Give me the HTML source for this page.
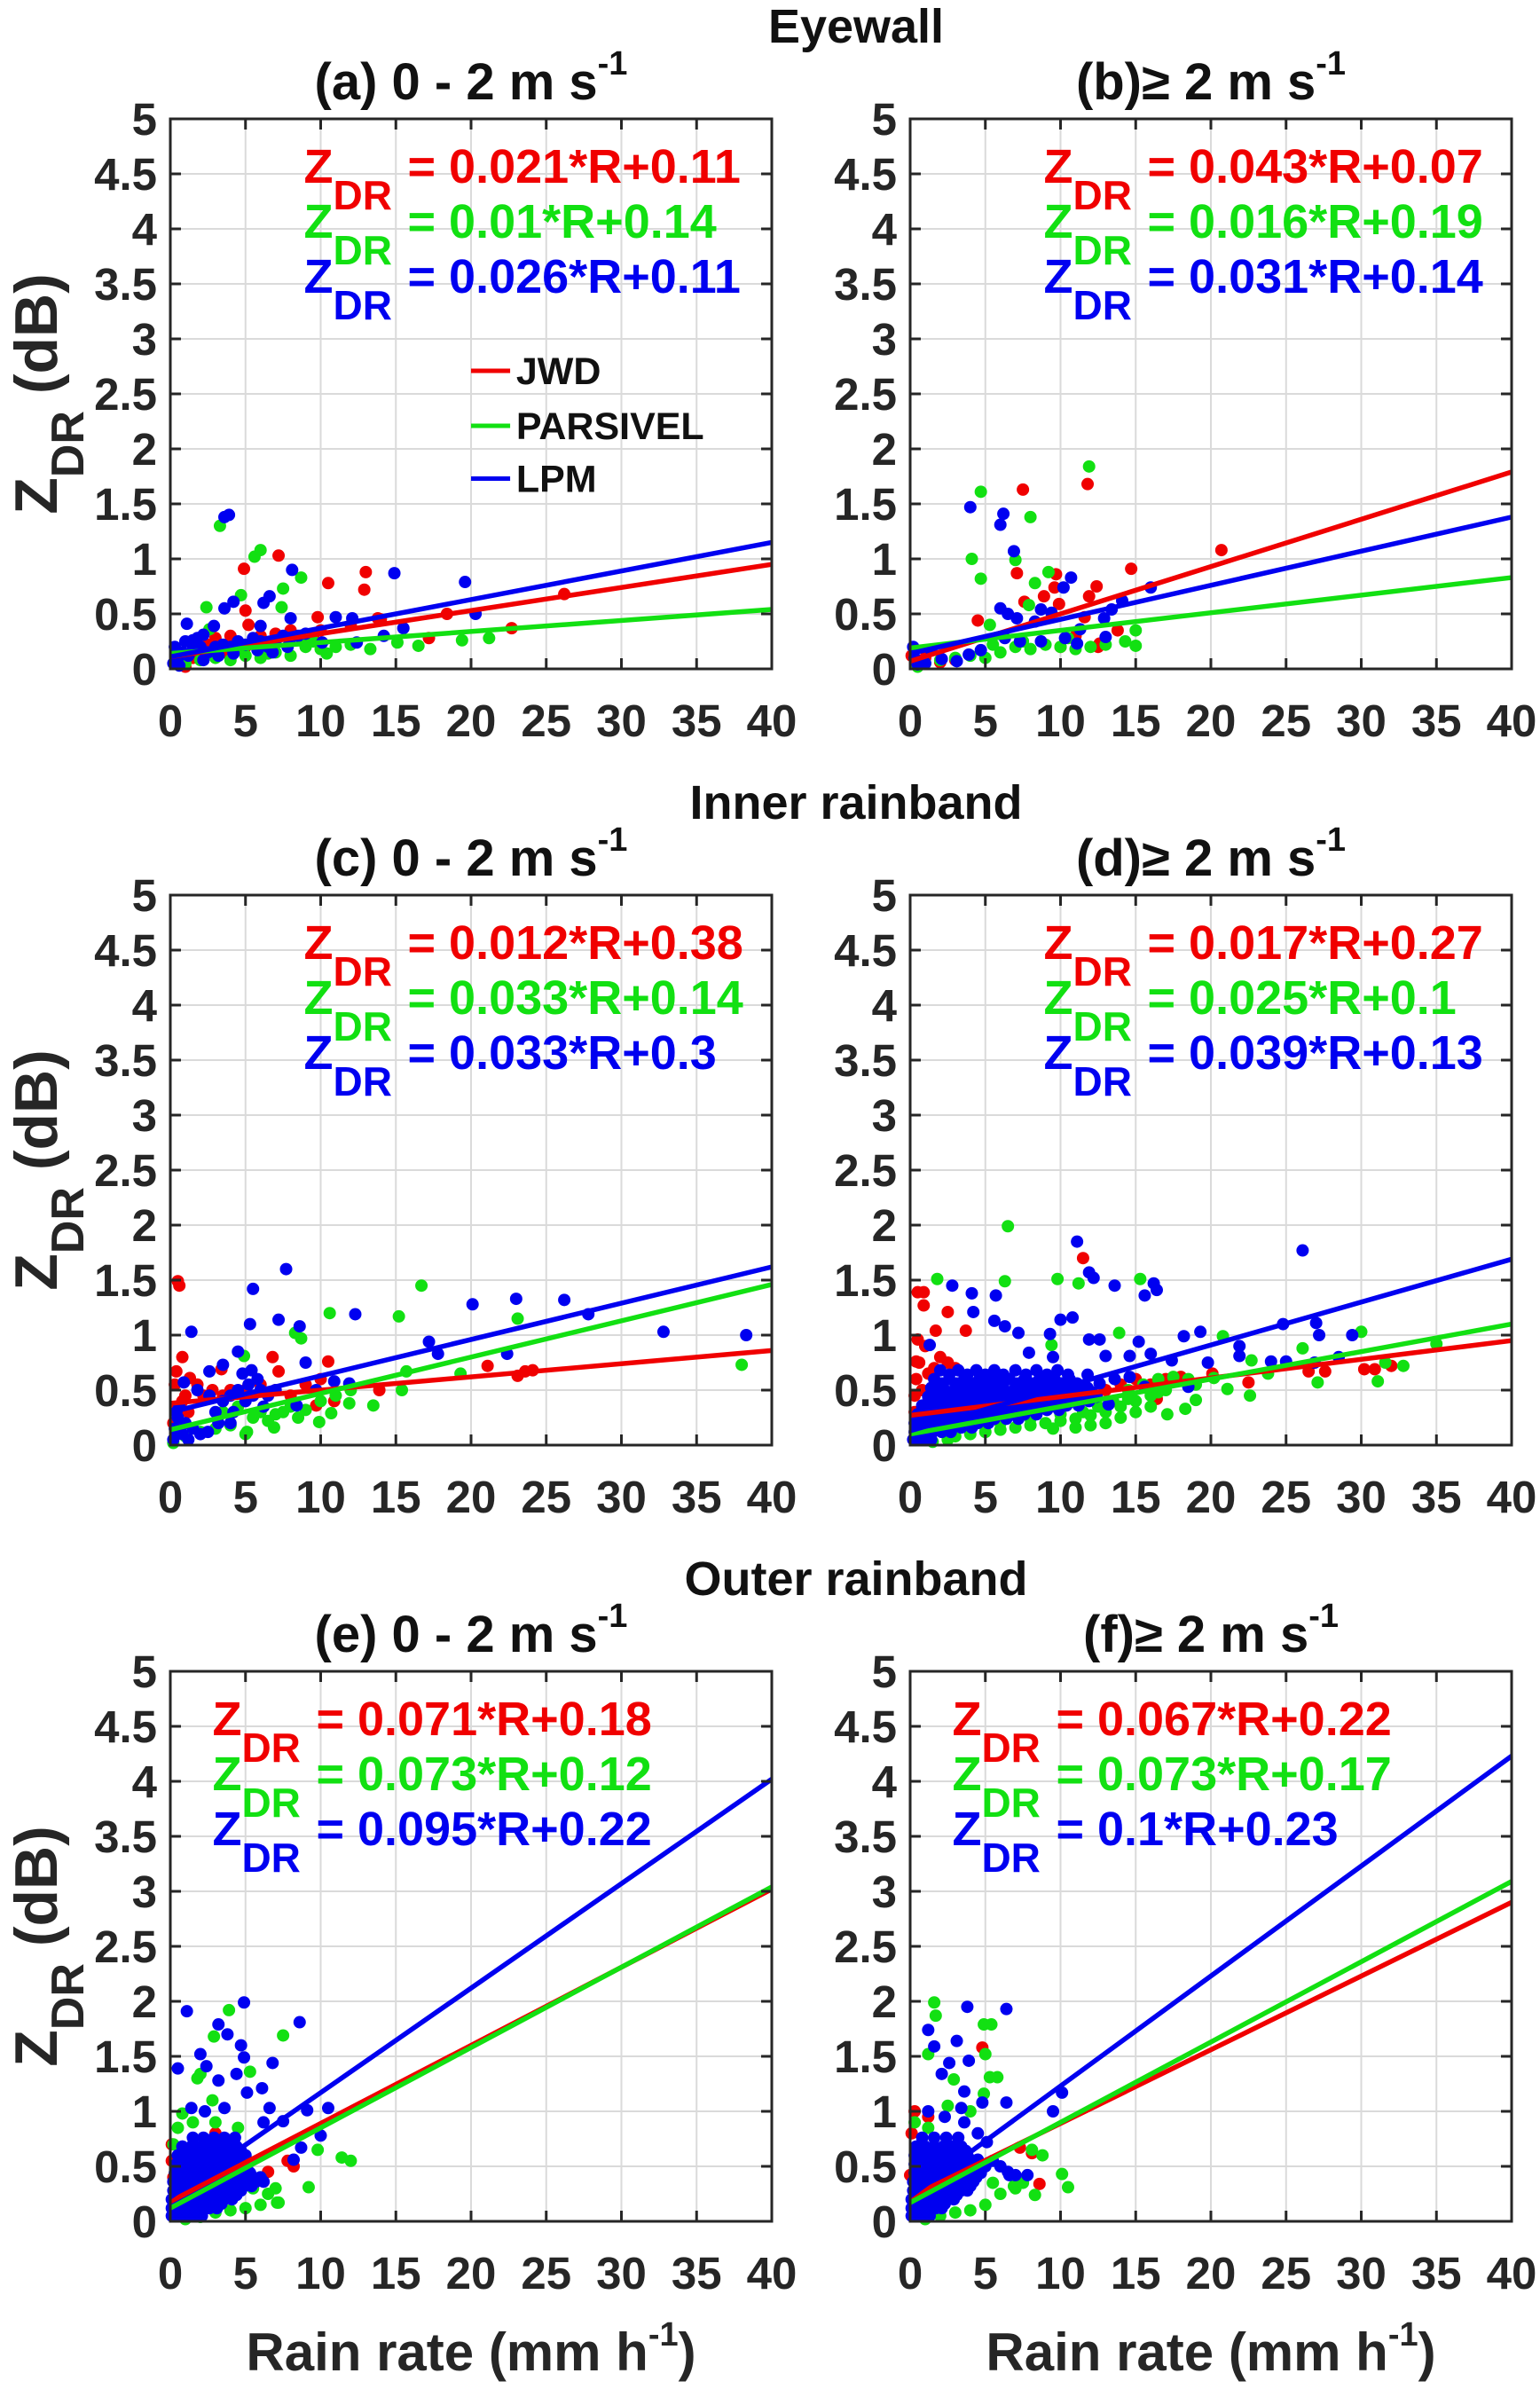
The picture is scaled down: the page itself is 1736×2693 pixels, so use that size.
<!DOCTYPE html>
<html><head><meta charset="utf-8"><style>
html,body{margin:0;padding:0;background:#fff;}
svg{display:block;font-family:"Liberation Sans",Arial,sans-serif;font-weight:bold;}
</style></head><body>
<svg id="fig" width="1736" height="2693" viewBox="0 0 1736 2693" xmlns="http://www.w3.org/2000/svg">
<rect width="1736" height="2693" fill="#fff"/>
</svg>
<script>
// ===== data =====
const xTicks = [0,5,10,15,20,25,30,35,40];
const yTicks = [0,0.5,1,1.5,2,2.5,3,3.5,4,4.5,5];
const yTickLabels = ["0","0.5","1","1.5","2","2.5","3","3.5","4","4.5","5"];
const sectionNames = ["Eyewall","Inner rainband","Outer rainband"];
const panelLetters = ["(a)","(b)","(c)","(d)","(e)","(f)"];
const seriesNames = ["JWD","PARSIVEL","LPM"];
// fits: [slope, intercept] for JWD, PARSIVEL, LPM
const slopesA = [0.021,0.01,0.026];   const interA = [0.11,0.14,0.11];
const slopesB = [0.043,0.016,0.031];  const interB = [0.07,0.19,0.14];
const slopesC = [0.012,0.033,0.033];  const interC = [0.38,0.14,0.3];
const slopesD = [0.017,0.025,0.039];  const interD = [0.27,0.1,0.13];
const slopesE = [0.071,0.073,0.095];  const interE = [0.18,0.12,0.22];
const slopesF = [0.067,0.073,0.1];    const interF = [0.22,0.17,0.23];
const eqTextA = ["0.021*R+0.11","0.01*R+0.14","0.026*R+0.11"];
const eqTextB = ["0.043*R+0.07","0.016*R+0.19","0.031*R+0.14"];
const eqTextC = ["0.012*R+0.38","0.033*R+0.14","0.033*R+0.3"];
const eqTextD = ["0.017*R+0.27","0.025*R+0.1","0.039*R+0.13"];
const eqTextE = ["0.071*R+0.18","0.073*R+0.12","0.095*R+0.22"];
const eqTextF = ["0.067*R+0.22","0.073*R+0.17","0.1*R+0.23"];

const aRed = [[7.2,1.03],[4.9,0.91],[13,0.88],[10.5,0.78],[12.9,0.72],[5,0.53],[5.2,0.4],[9.8,0.47],[26.2,0.68],[22.7,0.37],[18.4,0.5],[17.2,0.28],[13.8,0.46],[0.5,0.05],[1.5,0.1],[2.5,0.22],[3.5,0.15],[5,0.2],[6,0.3],[7,0.32],[8,0.35],[9.5,0.3],[1,0.02],[4,0.3],[3,0.28],[12,0.4],[14,0.45],[10,0.35]];
const aGreen = [[3.3,1.3],[5.6,1.02],[6,1.08],[7.5,0.73],[8.7,0.83],[2.4,0.56],[2.6,0.36],[4.7,0.67],[7.4,0.56],[16.5,0.21],[19.4,0.26],[21.2,0.28],[13.3,0.18],[10.4,0.14],[15.1,0.24],[9,0.22],[1,0.05],[2,0.08],[3,0.1],[4,0.08],[5,0.12],[6,0.1],[7,0.15],[8,0.12],[9,0.2],[10,0.18],[11,0.2],[12,0.22],[9.5,0.25],[2.5,0.15],[4.5,0.18],[6.5,0.14]];
const aBlue = [[3.6,1.38],[3.9,1.4],[8.1,0.9],[14.9,0.87],[19.6,0.79],[20.3,0.5],[1.1,0.41],[3.6,0.55],[4.2,0.61],[6.2,0.6],[6.6,0.66],[6,0.39],[8,0.46],[11,0.47],[12.1,0.46],[10.1,0.24],[12.4,0.24],[14.2,0.3],[15.5,0.37],[2.9,0.39],[1.5,0.26],[2.2,0.31],[0.2,0.05],[0.5,0.1],[0.8,0.15],[1.2,0.12],[1.5,0.18],[2,0.2],[2.5,0.15],[3,0.2],[3.5,0.22],[4,0.2],[4.5,0.25],[5,0.22],[5.5,0.28],[6,0.25],[6.5,0.2],[7,0.25],[7.5,0.3],[8,0.28],[8.5,0.3],[9,0.32],[0.3,0.2],[1,0.25],[1.8,0.28],[6.8,0.15],[5.8,0.17],[4.2,0.14],[3.2,0.12],[2.2,0.08],[0.6,0.03],[7.8,0.2]];

const bRed = [[7.5,1.63],[11.8,1.68],[20.7,1.08],[14.7,0.91],[7.1,0.87],[9.7,0.86],[12.4,0.75],[9.6,0.74],[8.9,0.66],[11.9,0.66],[9.9,0.59],[7.6,0.61],[4.5,0.44],[11.6,0.47],[13.8,0.35],[12.6,0.23],[0.1,0.12],[1,0.1],[2,0.06],[3,0.08],[12.5,0.2],[11,0.3],[10,0.2]];
const bGreen = [[11.9,1.84],[4.7,1.61],[8,1.38],[4.1,1.0],[4.7,0.82],[7,0.99],[9.2,0.88],[8.3,0.78],[7.9,0.58],[5.3,0.4],[15,0.35],[14.3,0.25],[15,0.21],[1,0.05],[2,0.08],[3,0.1],[4,0.12],[5,0.1],[6,0.15],[7,0.2],[8,0.18],[9,0.22],[10,0.2],[11,0.18],[12,0.2],[13,0.22],[0.5,0.02],[5.5,0.22],[7.5,0.25],[10.5,0.28]];
const bBlue = [[4,1.47],[6.2,1.41],[6,1.31],[6.9,1.07],[10.7,0.83],[10.2,0.74],[16,0.74],[14.1,0.62],[8.7,0.54],[6,0.55],[6.5,0.5],[7.1,0.46],[12.9,0.46],[13.4,0.54],[9.4,0.51],[8.3,0.43],[13,0.29],[11.3,0.36],[0.2,0.2],[1.4,0.17],[3.9,0.13],[2.1,0.09],[3.1,0.07],[0.5,0.04],[4.7,0.17],[6.3,0.28],[7.3,0.25],[8.7,0.25],[10.3,0.28],[11.1,0.23],[0.3,0.1],[1,0.05]];

const cRed = [[0.5,1.49],[0.6,1.45],[0.8,0.8],[6.8,0.8],[10.5,0.76],[21.1,0.72],[23.1,0.63],[23.6,0.67],[24.1,0.68],[0.4,0.67],[1.3,0.61],[7.2,0.67],[3.4,0.69],[13.9,0.5],[9.7,0.36],[10.9,0.4],[0.2,0.2],[0.5,0.35],[0.8,0.4],[1,0.45],[1.2,0.3],[1.8,0.55],[2.2,0.45],[2.8,0.5],[3.5,0.45],[4,0.5],[5,0.5],[6,0.55],[7,0.5],[8,0.45],[0.3,0.55],[9,0.55],[10,0.6]];
const cGreen = [[16.7,1.45],[10.6,1.2],[15.2,1.17],[23.1,1.15],[8.3,1.02],[8.7,0.97],[4.9,0.81],[38,0.73],[19.3,0.65],[15.7,0.67],[15.4,0.5],[13.5,0.36],[11.9,0.38],[10.7,0.29],[9.9,0.21],[6.9,0.16],[5.1,0.12],[0.2,0.02],[1,0.08],[2,0.12],[3,0.15],[4,0.18],[5,0.1],[5.5,0.25],[6,0.3],[6.5,0.22],[7,0.28],[7.5,0.3],[8,0.35],[8.5,0.25],[3.5,0.3],[4.5,0.35],[9,0.32],[10,0.4],[11,0.45],[12,0.5]];
const cBlue = [[7.7,1.6],[5.5,1.42],[1.4,1.03],[5.3,1.1],[7.2,1.14],[8.6,1.08],[12.3,1.19],[20.1,1.28],[23,1.33],[26.2,1.32],[27.8,1.19],[32.8,1.03],[38.3,1.0],[17.2,0.94],[17.8,0.83],[22.4,0.83],[9,0.75],[4.5,0.85],[3.5,0.73],[2.6,0.67],[0.9,0.57],[10.9,0.58],[11.9,0.56],[9.7,0.5],[8.4,0.36],[0.2,0.05],[0.3,0.15],[0.5,0.25],[0.8,0.1],[1,0.2],[1.2,0.05],[1.5,0.15],[2,0.1],[2.5,0.12],[0.4,0.3],[0.6,0.35],[3,0.3],[3.5,0.4],[4,0.45],[4.2,0.3],[4.5,0.5],[5,0.4],[5.2,0.55],[5.5,0.45],[6,0.5],[6.2,0.35],[6.5,0.45],[7,0.5],[5.8,0.6],[4.8,0.65],[5.4,0.68],[2.6,0.45],[3.2,0.2],[4,0.2],[1.8,0.5]];

const dRed = [[0.5,1.39],[0.9,1.39],[0.9,1.27],[2.5,1.21],[1.7,1.04],[3.7,1.04],[0.5,0.96],[11.5,1.7],[0.4,0.76],[30.2,0.69],[30.9,0.69],[32,0.72],[26.5,0.67],[27.6,0.67],[22.5,0.57],[20.1,0.65],[16.4,0.42],[0.3,0.3],[0.3,0.45],[0.4,0.6],[0.6,0.75],[0.8,0.5],[1.2,0.65],[1.6,0.7],[2,0.8],[1,0.9],[2.5,0.75],[3,0.7],[0.5,0.2],[12,0.45],[13,0.5],[14,0.55],[15,0.6],[16,0.55],[17,0.6],[18,0.62]];
const dGreen = [[6.5,1.99],[1.8,1.51],[6.3,1.49],[9.8,1.51],[11.2,1.47],[15.3,1.51],[13.9,1.02],[9.4,0.91],[20.8,0.99],[30,1.03],[35,0.92],[26.1,0.88],[32.8,0.72],[31.6,0.75],[31.1,0.58],[27.1,0.57],[22.7,0.77],[23.8,0.65],[22.6,0.45],[21.1,0.51],[17.1,0.28],[18.3,0.33],[19,0.41],[20.2,0.61],[3,0.08],[4,0.1],[5,0.12],[6,0.14],[7,0.16],[8,0.18],[9,0.2],[10,0.22],[11,0.24],[12,0.27],[13,0.3],[14,0.35],[15,0.4],[16,0.45],[17,0.5],[14.5,0.5],[16.5,0.6],[2.5,0.05],[1.5,0.03],[12.5,0.35],[11.5,0.3],[13.5,0.4],[15.5,0.55],[17.5,0.62],[18.5,0.6],[19,0.55],[6,0.2],[8,0.24],[10,0.28],[13,0.2],[14,0.25],[15,0.3],[16,0.35],[14.5,0.42],[16.5,0.48],[12,0.18],[11,0.16],[9.5,0.15]];
const dBlue = [[11.1,1.85],[26.1,1.77],[11.9,1.57],[12.2,1.52],[13.6,1.45],[16.2,1.47],[16.4,1.41],[15.6,1.36],[2.8,1.45],[4.1,1.38],[5.7,1.36],[4.2,1.21],[5.6,1.13],[6.3,1.08],[10,1.14],[10.8,1.16],[9.3,1.01],[7.2,1.02],[11.9,0.96],[12.6,0.96],[15.2,0.94],[19.3,1.03],[18.2,0.99],[24.8,1.1],[27,1.11],[27.2,1.0],[29.4,1.0],[21.9,0.9],[21.9,0.81],[24,0.76],[25,0.76],[26.9,0.75],[28.5,0.8],[19.8,0.75],[18.5,0.53],[15.6,0.53],[1.3,0.91],[7.9,0.84],[9.5,0.8],[13,0.81],[14.6,0.81],[16,0.83],[17.4,0.77],[13.2,0.37],
[0.2,0.05],[0.8,0.05],[1.4,0.05],
[0.3,0.12],[0.9,0.12],[1.5,0.12],[2.1,0.12],[2.7,0.12],
[0.3,0.2],[1,0.2],[1.7,0.2],[2.4,0.2],[3.1,0.2],[3.8,0.2],[4.5,0.2],[5.2,0.2],
[0.5,0.28],[1.2,0.28],[2,0.28],[2.8,0.28],[3.6,0.28],[4.4,0.28],[5.2,0.28],[6,0.28],[6.8,0.28],[7.6,0.28],[8.4,0.28],
[0.8,0.36],[1.6,0.36],[2.4,0.36],[3.2,0.36],[4,0.36],[4.8,0.36],[5.6,0.36],[6.4,0.36],[7.2,0.36],[8,0.36],[8.8,0.36],[9.6,0.36],[10.4,0.36],[11.2,0.36],
[1.2,0.44],[2,0.44],[2.8,0.44],[3.6,0.44],[4.4,0.44],[5.2,0.44],[6,0.44],[6.8,0.44],[7.6,0.44],[8.4,0.44],[9.2,0.44],[10,0.44],[10.8,0.44],[11.6,0.44],[12.4,0.44],
[1.4,0.52],[2.2,0.52],[3,0.52],[3.8,0.52],[4.6,0.52],[5.4,0.52],[6.2,0.52],[7,0.52],[7.8,0.52],[8.6,0.52],[9.4,0.52],[10.2,0.52],[11,0.52],[11.8,0.52],
[1.6,0.6],[2.6,0.6],[3.6,0.6],[4.6,0.6],[5.6,0.6],[6.6,0.6],[7.6,0.6],[8.6,0.6],[9.6,0.6],[10.6,0.6],
[2,0.68],[3.2,0.68],[4.4,0.68],[5.6,0.68],[7,0.68],[8.4,0.68],[9.8,0.68],
[0.6,0.16],[1.3,0.16],[2,0.16],[2.7,0.16],[3.4,0.16],[4.1,0.16],
[0.8,0.24],[1.6,0.24],[2.4,0.24],[3.2,0.24],[4,0.24],[4.8,0.24],[5.6,0.24],[6.4,0.24],[7.2,0.24],
[1.1,0.32],[1.9,0.32],[2.7,0.32],[3.5,0.32],[4.3,0.32],[5.1,0.32],[5.9,0.32],[6.7,0.32],[7.5,0.32],[8.3,0.32],[9.1,0.32],[9.9,0.32],
[1.5,0.4],[2.3,0.4],[3.1,0.4],[3.9,0.4],[4.7,0.4],[5.5,0.4],[6.3,0.4],[7.1,0.4],[7.9,0.4],[8.7,0.4],[9.5,0.4],[10.3,0.4],[11.1,0.4],[11.9,0.4],
[1.7,0.48],[2.5,0.48],[3.3,0.48],[4.1,0.48],[4.9,0.48],[5.7,0.48],[6.5,0.48],[7.3,0.48],[8.1,0.48],[8.9,0.48],[9.7,0.48],[10.5,0.48],[11.3,0.48],[12.1,0.48],
[2.1,0.56],[3.1,0.56],[4.1,0.56],[5.1,0.56],[6.1,0.56],[7.1,0.56],[8.1,0.56],[9.1,0.56],[10.1,0.56],[11.1,0.56],[12.6,0.56],[13.6,0.6],[14.6,0.62],
[2.6,0.64],[3.8,0.64],[5,0.64],[6.2,0.64],[7.7,0.64],[9.1,0.64],[10.5,0.64],[11.8,0.64]];

const eRed = [[0.1,0.55],[0.1,0.7],[0.2,0.4],[3,0.8],[7.8,0.55],[8.2,0.5],[6.5,0.45]];
const eGreen = [[3.9,1.92],[7.5,1.69],[2.9,1.68],[5.3,1.36],[2,1.34],[0.8,0.98],[9.8,0.65],[11.4,0.58],[12,0.55],[9.2,0.31],[7.1,0.17],[1,0.02],[2,0.04],[3,0.08],[4,0.1],[5,0.12],[6,0.15],[6.5,0.25],[7,0.3],[6,0.4],[5.5,0.3],[7.2,0.17],[0.2,0.7],[0.5,0.85],[1.5,0.9],[3,0.9],[4.5,0.85],[2.8,1.1],[1.8,1.3]];
const eBlue = [[1.1,1.91],[4.9,1.99],[8.6,1.81],[3.2,1.79],[3.8,1.7],[4.7,1.6],[4.9,1.49],[6.8,1.44],[0.5,1.39],[2,1.52],[2.4,1.41],[4.4,1.34],[3.2,1.28],[5.1,1.17],[6.1,1.21],[1.4,1.03],[2.3,1.0],[3.6,1.03],[6.6,1.03],[9.1,1.01],[10.5,1.03],[7.5,0.91],[6.2,0.9],[10,0.78],[8.7,0.67],[8.2,0.56],
[0.1,0.05],[0.6,0.05],[1.1,0.05],[1.6,0.05],[2.1,0.05],
[0.1,0.12],[0.6,0.12],[1.1,0.12],[1.6,0.12],[2.1,0.12],[2.6,0.12],[3.1,0.12],
[0.1,0.2],[0.6,0.2],[1.1,0.2],[1.6,0.2],[2.1,0.2],[2.6,0.2],[3.1,0.2],[3.6,0.2],[4.1,0.2],
[0.2,0.28],[0.7,0.28],[1.2,0.28],[1.7,0.28],[2.2,0.28],[2.7,0.28],[3.2,0.28],[3.7,0.28],[4.2,0.28],[4.7,0.28],
[0.2,0.36],[0.7,0.36],[1.2,0.36],[1.7,0.36],[2.2,0.36],[2.7,0.36],[3.2,0.36],[3.7,0.36],[4.2,0.36],[4.7,0.36],[5.2,0.36],[5.7,0.36],[6.2,0.36],
[0.3,0.44],[0.8,0.44],[1.3,0.44],[1.8,0.44],[2.3,0.44],[2.8,0.44],[3.3,0.44],[3.8,0.44],[4.3,0.44],[4.8,0.44],[5.3,0.44],
[0.4,0.52],[0.9,0.52],[1.4,0.52],[1.9,0.52],[2.4,0.52],[2.9,0.52],[3.4,0.52],[3.9,0.52],[4.4,0.52],[4.9,0.52],
[0.5,0.6],[1,0.6],[1.5,0.6],[2,0.6],[2.5,0.6],[3,0.6],[3.5,0.6],[4,0.6],[4.5,0.6],[5,0.6],
[0.8,0.68],[1.4,0.68],[2,0.68],[2.6,0.68],[3.2,0.68],[3.8,0.68],[4.4,0.68],
[1.5,0.76],[2.2,0.76],[2.9,0.76],[3.6,0.76],[4.3,0.76],
[0.4,0.16],[0.9,0.16],[1.4,0.16],[1.9,0.16],[2.4,0.16],[2.9,0.16],[3.4,0.16],
[0.4,0.24],[0.9,0.24],[1.4,0.24],[1.9,0.24],[2.4,0.24],[2.9,0.24],[3.4,0.24],[3.9,0.24],[4.4,0.24],
[0.4,0.32],[0.9,0.32],[1.4,0.32],[1.9,0.32],[2.4,0.32],[2.9,0.32],[3.4,0.32],[3.9,0.32],[4.4,0.32],[4.9,0.32],[5.4,0.32],
[0.5,0.4],[1,0.4],[1.5,0.4],[2,0.4],[2.5,0.4],[3,0.4],[3.5,0.4],[4,0.4],[4.5,0.4],[5,0.4],[5.5,0.4],[6,0.4],
[0.6,0.48],[1.1,0.48],[1.6,0.48],[2.1,0.48],[2.6,0.48],[3.1,0.48],[3.6,0.48],[4.1,0.48],[4.6,0.48],[5.1,0.48],
[0.7,0.56],[1.2,0.56],[1.7,0.56],[2.2,0.56],[2.7,0.56],[3.2,0.56],[3.7,0.56],[4.2,0.56],[4.7,0.56],
[1.1,0.64],[1.7,0.64],[2.3,0.64],[2.9,0.64],[3.5,0.64],[4.1,0.64],[4.7,0.64]];

const fRed = [[0.3,1.0],[4.8,1.58],[8.1,0.62],[7.3,0.67],[0,0.42],[8.6,0.34],[0.1,0.8],[1.2,0.95]];
const fGreen = [[1.6,1.99],[1.7,1.87],[4.9,1.79],[5.4,1.79],[5,1.52],[1.2,1.52],[5.3,1.31],[5.8,1.31],[2.9,1.29],[4.9,1.16],[8.1,0.65],[8.8,0.6],[10.1,0.43],[10.5,0.31],[8.3,0.24],[6.9,0.32],[1,0.02],[2,0.05],[3,0.08],[4,0.1],[5,0.15],[6,0.25],[7,0.3],[7.5,0.35],[5.5,0.35],[0.3,0.9],[1.2,0.85],[2.5,1.05],[4,1.0]];
const fBlue = [[3.8,1.95],[6.4,1.93],[1.2,1.74],[1.6,1.59],[3.1,1.64],[2.6,1.44],[3.9,1.46],[2.1,1.34],[3.6,1.18],[4.8,1.08],[6.4,1.08],[3.4,1.03],[10.1,1.17],[9.5,1.0],[1.2,1.0],[5.1,0.72],[6.6,0.42],[7.8,0.42],
[0.1,0.05],[0.5,0.05],[0.9,0.05],[1.3,0.05],
[0.1,0.12],[0.5,0.12],[0.9,0.12],[1.3,0.12],[1.7,0.12],[2.1,0.12],
[0.1,0.2],[0.5,0.2],[0.9,0.2],[1.3,0.2],[1.7,0.2],[2.1,0.2],[2.5,0.2],[2.9,0.2],
[0.2,0.28],[0.6,0.28],[1,0.28],[1.4,0.28],[1.8,0.28],[2.2,0.28],[2.6,0.28],[3,0.28],[3.4,0.28],[3.8,0.28],
[0.2,0.36],[0.6,0.36],[1,0.36],[1.4,0.36],[1.8,0.36],[2.2,0.36],[2.6,0.36],[3,0.36],[3.4,0.36],[3.8,0.36],[4.2,0.36],
[0.3,0.44],[0.7,0.44],[1.1,0.44],[1.5,0.44],[1.9,0.44],[2.3,0.44],[2.7,0.44],[3.1,0.44],[3.5,0.44],[3.9,0.44],[4.3,0.44],[4.7,0.44],
[0.3,0.52],[0.7,0.52],[1.1,0.52],[1.5,0.52],[1.9,0.52],[2.3,0.52],[2.7,0.52],[3.1,0.52],[3.5,0.52],[3.9,0.52],[4.3,0.52],
[0.3,0.6],[0.8,0.6],[1.3,0.6],[1.8,0.6],[2.3,0.6],[2.8,0.6],[3.3,0.6],[3.8,0.6],
[0.4,0.68],[1,0.68],[1.6,0.68],[2.2,0.68],[2.8,0.68],[3.4,0.68],
[0.8,0.76],[1.6,0.76],[2.4,0.76],[3.2,0.76],
[5.5,0.55],[6,0.5],[6.5,0.45],[7,0.42],[4.5,0.8],[3.6,0.9],[2.3,0.95],
[0.3,0.16],[0.7,0.16],[1.1,0.16],[1.5,0.16],[1.9,0.16],[2.3,0.16],
[0.3,0.24],[0.7,0.24],[1.1,0.24],[1.5,0.24],[1.9,0.24],[2.3,0.24],[2.7,0.24],[3.1,0.24],
[0.4,0.32],[0.8,0.32],[1.2,0.32],[1.6,0.32],[2,0.32],[2.4,0.32],[2.8,0.32],[3.2,0.32],[3.6,0.32],[4,0.32],
[0.4,0.4],[0.8,0.4],[1.2,0.4],[1.6,0.4],[2,0.4],[2.4,0.4],[2.8,0.4],[3.2,0.4],[3.6,0.4],[4,0.4],[4.4,0.4],
[0.5,0.48],[0.9,0.48],[1.3,0.48],[1.7,0.48],[2.1,0.48],[2.5,0.48],[2.9,0.48],[3.3,0.48],[3.7,0.48],[4.1,0.48],[4.5,0.48],[5,0.5],
[0.5,0.56],[1,0.56],[1.5,0.56],[2,0.56],[2.5,0.56],[3,0.56],[3.5,0.56],[4,0.56],[4.5,0.56],
[0.7,0.64],[1.3,0.64],[1.9,0.64],[2.5,0.64],[3.1,0.64],[3.7,0.64]];

// ===== drawing =====
const NS = "http://www.w3.org/2000/svg";
const svg = document.getElementById("fig");
const COLORS = ["#f00000","#12e012","#0000f0"];
const colLeft = [192,1026], plotW = 678, rowTop = [134,1009,1884], plotH = 620;
function mk(tag, attrs, parent){
  const e = document.createElementNS(NS, tag);
  for (const k in attrs) e.setAttribute(k, attrs[k]);
  (parent||svg).appendChild(e);
  return e;
}
const panels = [
  {pts:[aRed,aGreen,aBlue], s:slopesA, b:interA, eq:eqTextA, sub:"0 - 2 m s", eqf:0.222},
  {pts:[bRed,bGreen,bBlue], s:slopesB, b:interB, eq:eqTextB, sub:"\u2265 2 m s", eqf:0.222},
  {pts:[cRed,cGreen,cBlue], s:slopesC, b:interC, eq:eqTextC, sub:"0 - 2 m s", eqf:0.222},
  {pts:[dRed,dGreen,dBlue], s:slopesD, b:interD, eq:eqTextD, sub:"\u2265 2 m s", eqf:0.222},
  {pts:[eRed,eGreen,eBlue], s:slopesE, b:interE, eq:eqTextE, sub:"0 - 2 m s", eqf:0.07},
  {pts:[fRed,fGreen,fBlue], s:slopesF, b:interF, eq:eqTextF, sub:"\u2265 2 m s", eqf:0.07}
];
sectionNames.forEach((nm,r)=>{
  const t = mk("text",{x:965,y:rowTop[r]-86,"font-size":54,"text-anchor":"middle",fill:"#111"});
  
  
  t.textContent = nm;
});
panels.forEach((p,i)=>{
  const r = Math.floor(i/2), c = i%2;
  const L = colLeft[c], T = rowTop[r];
  const sx = x => L + x/40*plotW;
  const sy = y => T + (5-y)/5*plotH;
  const g = mk("g",{});
  
  
  xTicks.forEach(v=>{ mk("line",{x1:sx(v),x2:sx(v),y1:T,y2:T+plotH,stroke:"#dadada","stroke-width":2},g); });
  yTicks.forEach(v=>{ mk("line",{x1:L,x2:L+plotW,y1:sy(v),y2:sy(v),stroke:"#dadada","stroke-width":2},g); });
  p.pts.forEach((arr,k)=>{
    arr.forEach(pt=>{
      const d = mk("circle",{cx:sx(pt[0]),cy:sy(pt[1]),r:7,fill:COLORS[k]},g);
      
      
    });
  });
  for (let k=0;k<3;k++){
    const ln = mk("line",{x1:sx(0),y1:sy(p.b[k]),x2:sx(40),y2:sy(p.b[k]+p.s[k]*40),stroke:COLORS[k],"stroke-width":5.5},g);
    
    
  }
  const box = mk("rect",{x:L,y:T,width:plotW,height:plotH,fill:"none",stroke:"#262626","stroke-width":3},g);
  
  
  xTicks.forEach(v=>{
    mk("line",{x1:sx(v),x2:sx(v),y1:T+plotH,y2:T+plotH-12,stroke:"#262626","stroke-width":3},g);
    mk("line",{x1:sx(v),x2:sx(v),y1:T,y2:T+12,stroke:"#262626","stroke-width":3},g);
    const tl = mk("text",{x:sx(v),y:T+plotH+76,"font-size":51,"text-anchor":"middle",fill:"#262626"},g);
    
    
    tl.textContent = String(v);
  });
  yTicks.forEach((v,j)=>{
    mk("line",{x1:L,x2:L+12,y1:sy(v),y2:sy(v),stroke:"#262626","stroke-width":3},g);
    mk("line",{x1:L+plotW,x2:L+plotW-12,y1:sy(v),y2:sy(v),stroke:"#262626","stroke-width":3},g);
    const tl = mk("text",{x:L-15,y:sy(v)+18,"font-size":51,"text-anchor":"end",fill:"#262626"},g);
    
    
    tl.textContent = yTickLabels[j];
  });
  const tt = mk("text",{x:L+plotW/2,y:T-22,"font-size":58,"text-anchor":"middle",fill:"#111"},g);
  
  
  const t1 = mk("tspan",{},tt); t1.textContent = panelLetters[i] + (c===0?" ":"") + p.sub;
  const t2 = mk("tspan",{dy:-28,"font-size":38},tt); t2.textContent = "-1";
  const zx = L + p.eqf*plotW;
  [4.42,3.92,3.42].forEach((yv,k)=>{
    const e = mk("text",{x:zx,y:sy(yv),"font-size":54,fill:COLORS[k]},g);
    
    
    const a = mk("tspan",{},e); a.textContent = "Z";
    const b = mk("tspan",{dy:30,"font-size":46},e); b.textContent = "DR";
    const q = mk("text",{x:zx+117,y:sy(yv),"font-size":54,fill:COLORS[k]},g);
    
    
    q.textContent = "= " + p.eq[k];
  });
  if (i===0){
    const lg = mk("g",{},g);
    
    
    [2.71,2.21,1.73].forEach((yv,k)=>{
      mk("line",{x1:sx(20),x2:sx(22.6),y1:sy(yv),y2:sy(yv),stroke:COLORS[k],"stroke-width":5},lg);
      const lt = mk("text",{x:sx(23),y:sy(yv)+15,"font-size":43,fill:"#111"},lg);
      
      
      lt.textContent = seriesNames[k];
    });
  }
  if (c===0){
    const cy = T + plotH/2;
    const yl = mk("text",{x:0,y:0,"font-size":68,"text-anchor":"middle",fill:"#262626",transform:`translate(64,${cy}) rotate(-90)`},g);
    
    
    const a = mk("tspan",{},yl); a.textContent = "Z";
    const b = mk("tspan",{dy:30,"font-size":52},yl); b.textContent = "DR";
    const d2 = mk("tspan",{dy:-30},yl); d2.textContent = " (dB)";
  }
  if (r===2){
    const xl = mk("text",{x:L+plotW/2,y:2672,"font-size":60,"text-anchor":"middle",fill:"#262626"},g);
    
    
    const a = mk("tspan",{},xl); a.textContent = "Rain rate (mm h";
    const b = mk("tspan",{dy:-28,"font-size":38},xl); b.textContent = "-1";
    const d2 = mk("tspan",{dy:28},xl); d2.textContent = ")";
  }
});
</script>
</body></html>
